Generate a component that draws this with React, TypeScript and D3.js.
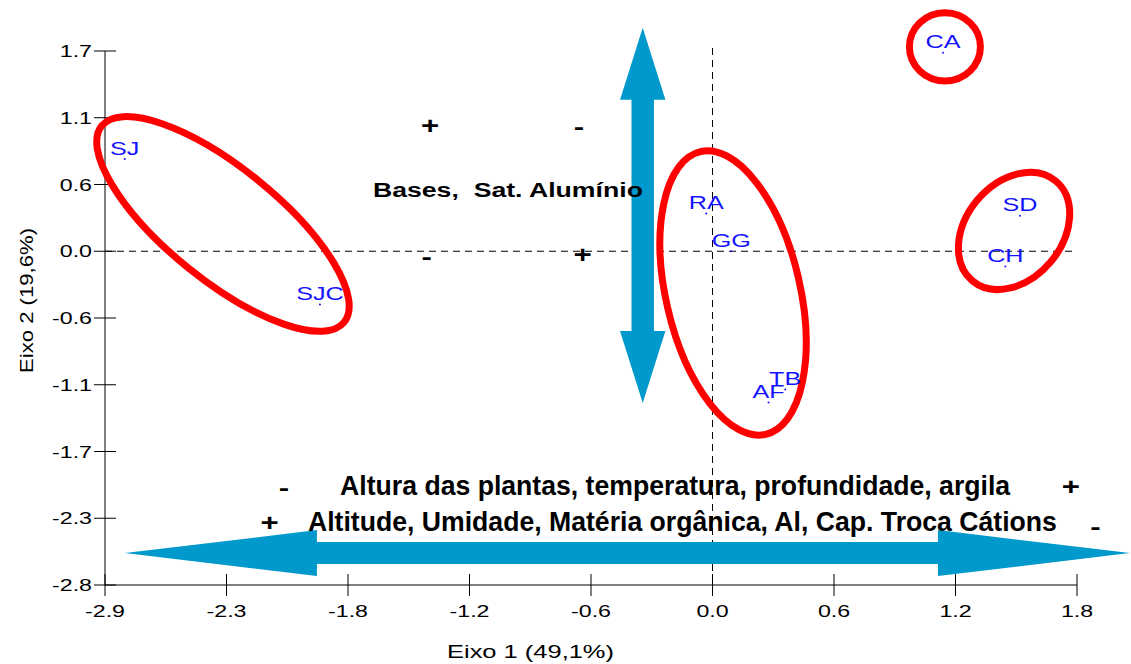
import React, { useEffect, useRef } from "react";
import * as d3 from "d3";

// site scores on the two axes
const sites = ["SJ", "SJC", "RA", "GG", "TB", "AF", "SD", "CH", "CA"];
const eixo1 = [-2.83, -1.89, -0.03, 0.09, 0.35, 0.27, 1.48, 1.41, 1.11];
const eixo2 = [0.78, -0.45, 0.32, 0.0, -1.17, -1.28, 0.3, -0.13, 1.68];

const xTicks = [-2.925, -2.34, -1.755, -1.17, -0.585, 0, 0.585, 1.17, 1.755];
const xTickLabels = ["-2.9", "-2.3", "-1.8", "-1.2", "-0.6", "0.0", "0.6", "1.2", "1.8"];
const yTicks = [1.695, 1.13, 0.565, 0, -0.565, -1.13, -1.695, -2.26, -2.825];
const yTickLabels = ["1.7", "1.1", "0.6", "0.0", "-0.6", "-1.1", "-1.7", "-2.3", "-2.8"];

// red rings around the groups (axis units, tilt in degrees)
const groupCx = [-2.357, 0.099, 1.452, 1.119];
const groupCy = [0.231, -0.353, 0.172, 1.73];
const groupRx = [0.751, 0.323, 0.313, 0.171];
const groupRy = [0.474, 1.228, 0.406, 0.288];
const groupTilt = [39, -13, -50, 0];

// blue double arrows (axis units)
const arrowStart = [[-2.829, -2.555], [-0.336, 1.891]];
const arrowEnd = [[2.01, -2.555], [-0.336, -1.285]];

// + / - signs
const signText = ["+", "-", "-", "+", "-", "+", "+", "-"];
const signX = [-1.36, -0.643, -1.376, -0.625, -2.063, 1.726, -2.132, 1.844];
const signY = [1.061, 1.051, -0.048, -0.031, -2.004, -1.996, -2.301, -2.332];

// variable notes
const notes = [
  "Bases,  Sat. Alumínio",
  "Altura das plantas, temperatura, profundidade, argila",
  "Altitude, Umidade, Matéria orgânica, Al, Cap. Troca Cátions",
];
const noteX = [-1.635, -1.793, -1.948];
const noteY = [0.519, -1.979, -2.288];

const W = 1131;
const H = 664;
const FONT = "'Liberation Sans', Arial, sans-serif";

const App = () => {
  const ref = useRef(null);

  useEffect(() => {
    const svg = d3.select(ref.current);
    svg.selectAll("*").remove();

    const x = d3.scaleLinear().domain([-2.925, 1.755]).range([105, 1077]);
    const y = d3.scaleLinear().domain([-2.825, 1.695]).range([585, 51]);
    const [x0, x1] = x.range();
    const [y0, y1] = y.range();

    // dashed zero lines
    svg
      .append("line")
      .attr("x1", x0)
      .attr("x2", x1)
      .attr("y1", y(0))
      .attr("y2", y(0))
      .attr("stroke", "#000")
      .attr("stroke-dasharray", "7,5");
    svg
      .append("line")
      .attr("x1", x(0))
      .attr("x2", x(0))
      .attr("y1", y1 - 3)
      .attr("y2", y0)
      .attr("stroke", "#000")
      .attr("stroke-dasharray", "7,5");

    // axes
    svg.append("line").attr("x1", x0).attr("x2", x1).attr("y1", y0).attr("y2", y0).attr("stroke", "#000");
    svg.append("line").attr("x1", x0).attr("x2", x0).attr("y1", y1).attr("y2", y0).attr("stroke", "#000");

    xTicks.forEach((t, i) => {
      svg
        .append("line")
        .attr("x1", x(t))
        .attr("x2", x(t))
        .attr("y1", y0 - 11)
        .attr("y2", y0 + 11)
        .attr("stroke", "#000");
      svg
        .append("text")
        .attr("transform", `translate(${x(t)},${y0 + 32}) scale(1.45,1)`)
        .attr("text-anchor", "middle")
        .style("font-family", FONT)
        .style("font-size", "16px")
        .attr("fill", "#000")
        .text(xTickLabels[i]);
    });

    yTicks.forEach((t, i) => {
      svg
        .append("line")
        .attr("x1", x0 - 11)
        .attr("x2", x0 + 11)
        .attr("y1", y(t))
        .attr("y2", y(t))
        .attr("stroke", "#000");
      svg
        .append("text")
        .attr("transform", `translate(${x0 - 13},${y(t) + 6}) scale(1.45,1)`)
        .attr("text-anchor", "end")
        .style("font-family", FONT)
        .style("font-size", "16px")
        .attr("fill", "#000")
        .text(yTickLabels[i]);
    });

    svg
      .append("text")
      .attr("x", 447)
      .attr("y", 658)
      .attr("textLength", 167)
      .attr("lengthAdjust", "spacingAndGlyphs")
      .style("font-family", FONT)
      .style("font-size", "18.5px")
      .text("Eixo 1 (49,1%)");

    svg
      .append("text")
      .attr("transform", `translate(33,373) rotate(-90)`)
      .attr("textLength", 145)
      .attr("lengthAdjust", "spacingAndGlyphs")
      .style("font-family", FONT)
      .style("font-size", "17.5px")
      .text("Eixo 2 (19,6%)");

    // arrows
    const arrow = (s, e) => {
      const ax = x(s[0]);
      const ay = y(s[1]);
      const bx = x(e[0]);
      const by = y(e[1]);
      const len = Math.hypot(bx - ax, by - ay);
      const horiz = Math.abs(by - ay) < 1;
      const hl = horiz ? 192 : 72;
      const hw = horiz ? 23 : 22.7;
      const sw = horiz ? 11 : 11.2;
      const pts = [
        [0, 0],
        [hl, -hw],
        [hl, -sw],
        [len - hl, -sw],
        [len - hl, -hw],
        [len, 0],
        [len - hl, hw],
        [len - hl, sw],
        [hl, sw],
        [hl, hw],
      ];
      const ang = (Math.atan2(by - ay, bx - ax) * 180) / Math.PI;
      svg
        .append("polygon")
        .attr("points", pts.map((p) => p.join(",")).join(" "))
        .attr("transform", `translate(${ax},${ay}) rotate(${ang})`)
        .attr("fill", "#0099cc");
    };
    arrowStart.forEach((s, i) => arrow(s, arrowEnd[i]));

    // red rings
    const kx = x(1) - x(0);
    const ky = y(0) - y(1);
    groupCx.forEach((cx, i) => {
      svg
        .append("ellipse")
        .attr("transform", `translate(${x(cx)},${y(groupCy[i])}) rotate(${groupTilt[i]})`)
        .attr("rx", groupRx[i] * kx)
        .attr("ry", groupRy[i] * ky)
        .attr("fill", "none")
        .attr("stroke", "#ff0000")
        .attr("stroke-width", 7);
    });

    // notes
    const noteSize = [19.5, 27.5, 27.5];
    const noteWidth = [270, 670, 749];
    notes.forEach((n, i) => {
      svg
        .append("text")
        .attr("x", x(noteX[i]))
        .attr("y", y(noteY[i]))
        .attr("dominant-baseline", "central")
        .attr("textLength", noteWidth[i])
        .attr("lengthAdjust", "spacingAndGlyphs")
        .style("white-space", "pre")
        .style("font-family", FONT)
        .style("font-weight", "bold")
        .style("font-size", noteSize[i] + "px")
        .attr("fill", "#000")
        .text(n);
    });

    signText.forEach((s, i) => {
      svg
        .append("text")
        .attr("transform", `translate(${x(signX[i])},${y(signY[i])}) scale(1.3,1)`)
        .attr("text-anchor", "middle")
        .attr("dominant-baseline", "central")
        .style("font-family", FONT)
        .style("font-weight", "bold")
        .style("font-size", "24px")
        .attr("fill", "#000")
        .text(s);
    });

    // sites
    sites.forEach((s, i) => {
      const px = x(eixo1[i]);
      const py = y(eixo2[i]);
      svg.append("circle").attr("cx", px).attr("cy", py).attr("r", 1).attr("fill", "#1414ff");
      svg
        .append("text")
        .attr("transform", `translate(${px},${py - 4.5}) scale(1.36,1)`)
        .attr("text-anchor", "middle")
        .style("font-family", FONT)
        .style("font-size", "18.5px")
        .attr("fill", "#1414ff")
        .text(s);
    });
  });

  return (
    <svg
      ref={ref}
      width={W}
      height={H}
      style={{ position: "absolute", left: 0, top: 0, background: "#fff" }}
    ></svg>
  );
};

export default App;
